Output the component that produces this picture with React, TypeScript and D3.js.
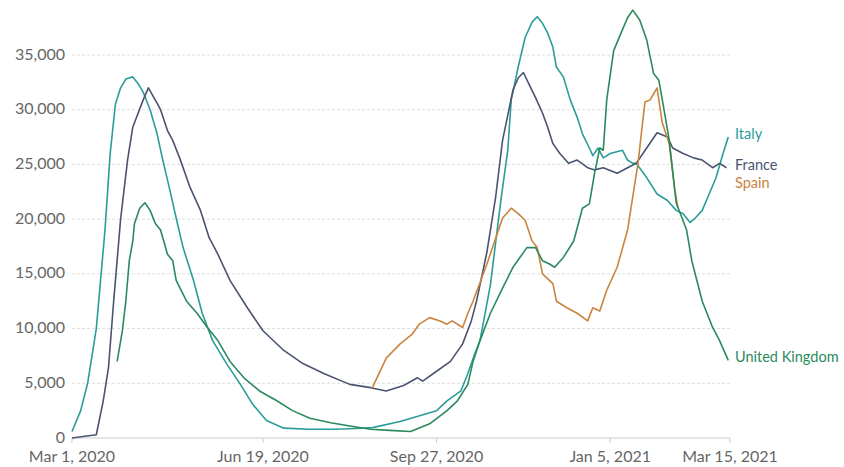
import React, { useEffect, useRef } from 'react';
import * as d3 from 'd3';

// days since Mar 1, 2020 and patients in hospital
const START = new Date(2020, 2, 1);

const italy: [number, number][] = [
  [0, 600], [5, 2500], [9, 5000], [14, 10000], [19, 19000], [22, 26000], [25, 30500], [28, 32000],
  [31, 32800], [35, 33000], [38, 32400], [41, 31600], [45, 30000], [49, 27800], [52, 25600],
  [56, 22900], [60, 20100], [64, 17400], [70, 14400], [75, 11400], [81, 8900], [89, 6800],
  [97, 4900], [104, 3100], [112, 1600], [122, 900], [137, 800], [150, 800], [160, 850],
  [173, 950], [189, 1500], [210, 2500], [216, 3400], [224, 4300], [228, 5900], [232, 7700],
  [235, 8900], [241, 14000], [247, 21700], [251, 26300], [253, 30900], [257, 33900], [261, 36600],
  [265, 38000], [268, 38500], [271, 37900], [274, 37000], [277, 35700], [279, 33900], [283, 33000],
  [287, 30900], [291, 29300], [294, 27800], [298, 26500], [300, 25800], [303, 26500], [306, 25600],
  [310, 26000], [317, 26300], [320, 25400], [323, 25100], [325, 25100], [331, 23800], [337, 22300],
  [343, 21700], [348, 20800], [352, 20500], [356, 19700], [359, 20100], [363, 20800], [367, 22300],
  [371, 23800], [375, 26000], [378, 27500],
];

const france: [number, number][] = [
  [0, 0], [14, 300], [18, 3400], [21, 6400], [24, 12500], [28, 20000], [32, 25400], [35, 28400],
  [41, 30900], [44, 32000], [49, 30600], [51, 30000], [55, 28100], [58, 27200], [62, 25600],
  [68, 22900], [74, 20800], [79, 18300], [84, 16800], [91, 14400], [101, 11900], [110, 9800],
  [122, 8000], [133, 6800], [145, 5900], [160, 4900], [172, 4600], [181, 4300], [191, 4800],
  [199, 5500], [202, 5200], [210, 6100], [218, 7000], [225, 8600], [230, 10700], [233, 12500],
  [239, 17000], [244, 22000], [248, 27200], [254, 31800], [257, 32900], [260, 33400], [263, 32400],
  [267, 31100], [271, 29700], [274, 28400], [277, 26900], [281, 26000], [286, 25100], [291, 25400],
  [297, 24700], [301, 24500], [306, 24700], [314, 24200], [320, 24700], [325, 25100], [331, 26500],
  [337, 27900], [343, 27500], [346, 26500], [352, 26000], [358, 25600], [363, 25400], [369, 24700],
  [373, 25100], [377, 24700],
];

const spain: [number, number][] = [
  [173, 4600], [181, 7300], [189, 8600], [196, 9500], [200, 10400], [206, 11000], [212, 10700],
  [216, 10400], [219, 10700], [225, 10100], [228, 11400], [231, 12500], [239, 15900], [245, 18700],
  [248, 20100], [253, 21000], [257, 20500], [261, 19900], [265, 18000], [268, 17400], [271, 15000],
  [277, 14100], [279, 12500], [285, 11900], [291, 11400], [297, 10700], [300, 11900], [304, 11600],
  [308, 13500], [314, 15600], [320, 19000], [326, 25100], [330, 30700], [333, 30900], [337, 32000],
  [340, 28800], [344, 26900], [347, 22900], [349, 21000],
];

const uk: [number, number][] = [
  [26, 7000], [29, 9800], [31, 12500], [33, 16200], [35, 18000], [36, 19600], [39, 21000],
  [42, 21500], [45, 20800], [48, 19600], [51, 19000], [55, 16800], [58, 16200], [60, 14400],
  [66, 12500], [72, 11400], [78, 10100], [84, 8900], [91, 7000], [99, 5500], [108, 4300],
  [118, 3400], [127, 2500], [137, 1800], [149, 1400], [160, 1100], [172, 800], [183, 700],
  [195, 600], [206, 1300], [216, 2500], [222, 3400], [228, 4900], [231, 7000], [235, 8900],
  [241, 11400], [248, 13700], [254, 15600], [262, 17400], [267, 17400], [271, 16200], [275, 15900],
  [278, 15600], [283, 16500], [289, 18000], [294, 21000], [298, 21400], [301, 24200], [304, 26500],
  [306, 26300], [308, 30900], [312, 35400], [317, 37300], [320, 38400], [323, 39100], [327, 38200],
  [331, 36400], [335, 33300], [338, 32700], [341, 30000], [344, 27200], [348, 21500], [354, 19000],
  [357, 16200], [363, 12500], [369, 10100], [373, 8900], [378, 7100],
];

const yTicks = [0, 5000, 10000, 15000, 20000, 25000, 30000, 35000];
const xTickDates = [new Date(2020, 2, 1), new Date(2020, 5, 19), new Date(2020, 8, 27), new Date(2021, 0, 5), new Date(2021, 2, 15)];

const series = [
  { name: 'Italy', data: italy, color: '#2a9d98' },
  { name: 'France', data: france, color: '#4a5471' },
  { name: 'Spain', data: spain, color: '#c9843f' },
  { name: 'United Kingdom', data: uk, color: '#2a8a5d' },
];

export default function App() {
  const svgRef = useRef<SVGSVGElement>(null);

  useEffect(() => {
    if (!svgRef.current) return;
    const svg = d3.select(svgRef.current);
    svg.selectAll('*').remove();

    const width = 844;
    const height = 467;
    const font = 'Lato, "Open Sans", sans-serif';

    const x = d3.scaleTime()
      .domain([START, new Date(2021, 2, 15)])
      .range([72, 730]);
    const y = d3.scaleLinear().domain([0, 35000]).range([438, 55]);

    svg.attr('width', width).attr('height', height);

    // gridlines + y labels
    const grid = svg.append('g');
    grid.selectAll('line')
      .data(yTicks.filter((t) => t > 0))
      .enter().append('line')
      .attr('x1', 72).attr('x2', 730)
      .attr('y1', (d) => y(d)).attr('y2', (d) => y(d))
      .attr('stroke', '#ddd')
      .attr('stroke-dasharray', '3,2');

    grid.selectAll('text')
      .data(yTicks)
      .enter().append('text')
      .attr('x', 65)
      .attr('y', (d) => y(d) - 1)
      .attr('dy', '0.35em')
      .attr('text-anchor', 'end')
      .style('font-family', font)
      .style('font-size', '16px')
      .attr('fill', '#666')
      .text((d) => d3.format(',')(d));

    // x axis
    svg.append('line')
      .attr('x1', 72).attr('x2', 730)
      .attr('y1', y(0)).attr('y2', y(0))
      .attr('stroke', '#ccc');

    const xt = svg.append('g');
    xt.selectAll('line')
      .data(xTickDates)
      .enter().append('line')
      .attr('x1', (d) => x(d)).attr('x2', (d) => x(d))
      .attr('y1', y(0)).attr('y2', y(0) + 5)
      .attr('stroke', '#ccc');
    xt.selectAll('text')
      .data(xTickDates)
      .enter().append('text')
      .attr('x', (d) => x(d))
      .attr('y', 462)
      .attr('text-anchor', 'middle')
      .style('font-family', font)
      .style('font-size', '16px')
      .attr('fill', '#666')
      .text((d) => d3.timeFormat('%b %-d, %Y')(d));

    const line = d3.line<[number, number]>()
      .x((d) => x(d3.timeDay.offset(START, d[0])))
      .y((d) => y(d[1]));

    svg.append('g').selectAll('path')
      .data(series)
      .enter().append('path')
      .attr('d', (s) => line(s.data))
      .attr('fill', 'none')
      .attr('stroke', (s) => s.color)
      .attr('stroke-width', 1.6)
      .attr('stroke-linejoin', 'round');

    // labels at the right
    const labelY: Record<string, number> = {};
    series.forEach((s) => {
      labelY[s.name] = y(s.data[s.data.length - 1][1]) - 3;
    });
    labelY['Spain'] = labelY['France'] + 18;

    svg.append('g').selectAll('text')
      .data(series)
      .enter().append('text')
      .attr('x', 735)
      .attr('y', (s) => labelY[s.name])
      .attr('dy', '0.35em')
      .style('font-family', font)
      .style('font-size', '14.5px')
      .attr('fill', (s) => s.color)
      .text((s) => s.name);
  }, []);

  return (
    <div style={{ position: 'absolute', left: 0, top: 0 }}>
      <svg ref={svgRef}></svg>
    </div>
  );
}
